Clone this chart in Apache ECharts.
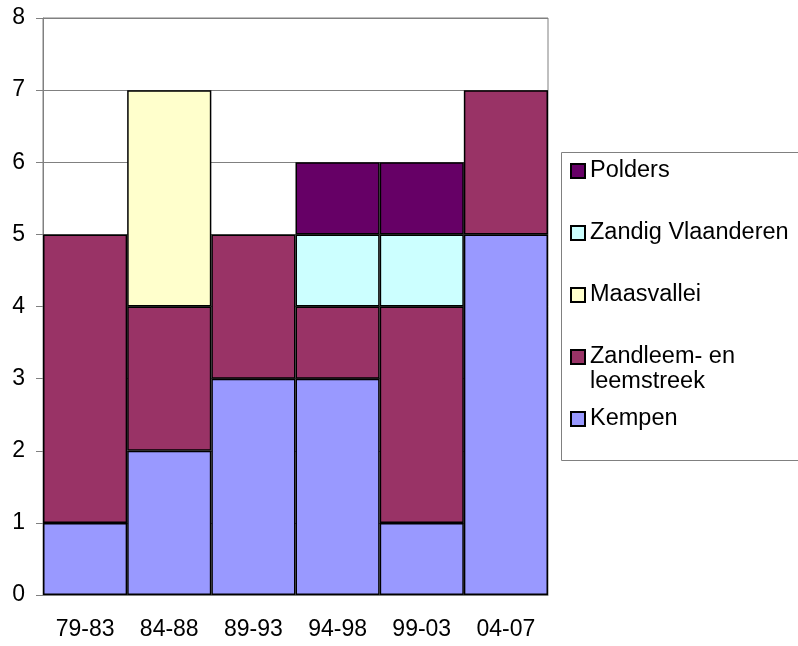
<!DOCTYPE html>
<html lang="nl">
<head>
    <meta charset="UTF-8">
    <title>Regio's</title>
    <script type="text/javascript" src="https://cdn.jsdelivr.net/npm/echarts@6/dist/echarts.min.js"></script>
    <style>
        body { margin: 0; background: #fff; }
    </style>
</head>
<body>
<div id="main" style="width: 798px;height:646px;"></div>
<script>
    var periods = ['79-83', '84-88', '89-93', '94-98', '99-03', '04-07'];
    var kempen = [1, 2, 3, 3, 1, 5];
    var zandleem = [4, 2, 2, 1, 3, 2];
    var maasvallei = [0, 3, 0, 0, 0, 0];
    var zandig = [0, 0, 0, 1, 1, 0];
    var polders = [0, 0, 0, 1, 1, 0];
    var yTicks = [0, 1, 2, 3, 4, 5, 6, 7, 8];

    var font = '"Liberation Sans", Arial, sans-serif';

    function serie(name, values, color) {
        return {
            name: name,
            type: 'bar',
            stack: 'totaal',
            barCategoryGap: '0%',
            // lege stukken niet tekenen
            data: values.map(function (v) { return v === 0 ? '-' : v; }),
            itemStyle: {
                color: color,
                borderColor: '#000',
                borderWidth: 1.5
            },
            emphasis: { disabled: true }
        };
    }

    var myChart = echarts.init(document.getElementById('main'));
    var option = {
        animation: false,
        textStyle: { fontFamily: font },
        grid: {
            left: 43,
            right: 250,
            top: 18,
            bottom: 51,
            show: true,
            borderColor: '#808080',
            borderWidth: 1
        },
        legend: {
            orient: 'vertical',
            left: 570,
            top: 159,
            padding: 0,
            icon: 'rect',
            itemWidth: 14,
            itemHeight: 14,
            itemGap: 38,
            data: ['Polders', 'Zandig Vlaanderen', 'Maasvallei', 'Zandleem- en leemstreek', 'Kempen'],
            formatter: function (name) {
                return name === 'Zandleem- en leemstreek' ? 'Zandleem- en' : name;
            },
            textStyle: {
                fontFamily: font,
                fontSize: 23.5,
                lineHeight: 24,
                color: '#000'
            }
        },
        graphic: [
            {
                type: 'rect',
                shape: { x: 561.5, y: 152.5, width: 300, height: 308 },
                style: { fill: 'none', stroke: '#808080', lineWidth: 1 },
                silent: true
            },
            {
                type: 'text',
                left: 590,
                top: 370,
                style: {
                    text: 'leemstreek',
                    font: '23.5px ' + font,
                    fill: '#000'
                },
                silent: true
            }
        ],
        xAxis: {
            type: 'category',
            data: periods,
            axisLine: { lineStyle: { color: '#808080', width: 1 } },
            axisTick: { length: 7, lineStyle: { color: '#808080' } },
            axisLabel: { fontSize: 23, color: '#000', margin: 23, interval: 0 },
            splitLine: { show: false }
        },
        yAxis: {
            type: 'value',
            min: yTicks[0],
            max: yTicks[yTicks.length - 1],
            interval: 1,
            axisLine: { show: true, lineStyle: { color: '#808080', width: 1 } },
            axisTick: { show: true, length: 7, lineStyle: { color: '#808080' } },
            axisLabel: { fontSize: 23, color: '#000', margin: 18 },
            splitLine: { lineStyle: { color: '#808080', width: 1 } }
        },
        series: [
            serie('Kempen', kempen, '#9999FF'),
            serie('Zandleem- en leemstreek', zandleem, '#993366'),
            serie('Maasvallei', maasvallei, '#FFFFCC'),
            serie('Zandig Vlaanderen', zandig, '#CCFFFF'),
            serie('Polders', polders, '#660066')
        ]
    };
    myChart.setOption(option);
</script>
</body>
</html>
